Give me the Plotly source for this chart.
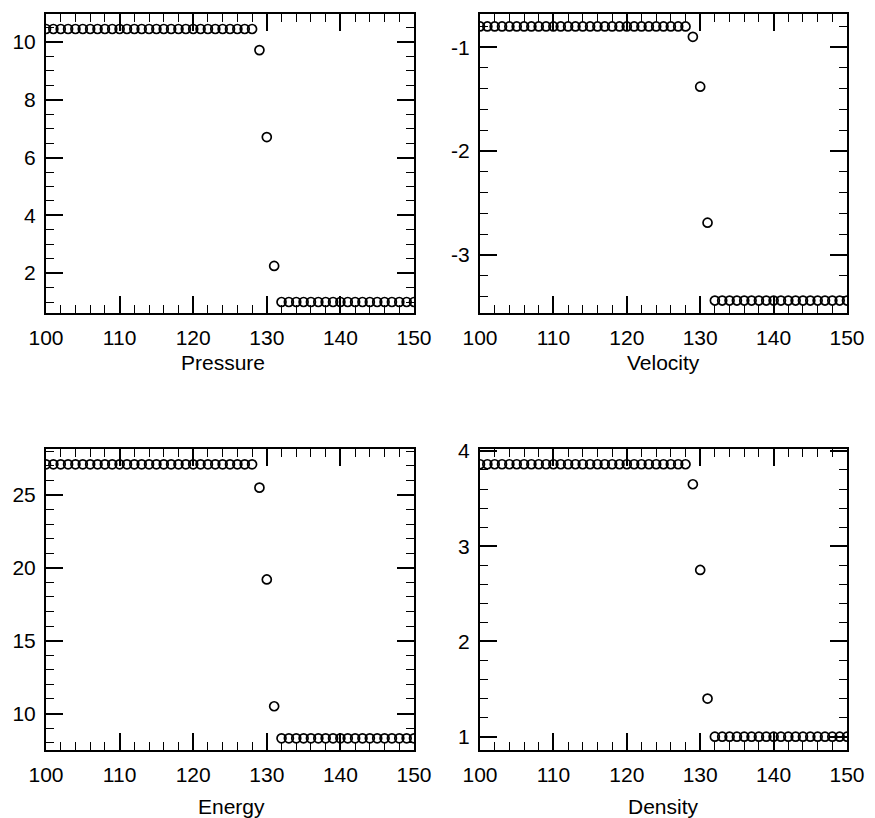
import plotly.graph_objects as go

# ---- data ----
x_vals = list(range(100, 151))

pressure = [10.45, 10.45, 10.45, 10.45, 10.45, 10.45, 10.45, 10.45, 10.45, 10.45,
            10.45, 10.45, 10.45, 10.45, 10.45, 10.45, 10.45, 10.45, 10.45, 10.45,
            10.45, 10.45, 10.45, 10.45, 10.45, 10.45, 10.45, 10.45, 10.45,
            9.72, 6.71, 2.25,
            1.0, 1.0, 1.0, 1.0, 1.0, 1.0, 1.0, 1.0, 1.0, 1.0,
            1.0, 1.0, 1.0, 1.0, 1.0, 1.0, 1.0, 1.0, 1.0]

velocity = [-0.80, -0.80, -0.80, -0.80, -0.80, -0.80, -0.80, -0.80, -0.80, -0.80,
            -0.80, -0.80, -0.80, -0.80, -0.80, -0.80, -0.80, -0.80, -0.80, -0.80,
            -0.80, -0.80, -0.80, -0.80, -0.80, -0.80, -0.80, -0.80, -0.80,
            -0.90, -1.38, -2.69,
            -3.44, -3.44, -3.44, -3.44, -3.44, -3.44, -3.44, -3.44, -3.44, -3.44,
            -3.44, -3.44, -3.44, -3.44, -3.44, -3.44, -3.44, -3.44, -3.44]

energy = [27.1, 27.1, 27.1, 27.1, 27.1, 27.1, 27.1, 27.1, 27.1, 27.1,
          27.1, 27.1, 27.1, 27.1, 27.1, 27.1, 27.1, 27.1, 27.1, 27.1,
          27.1, 27.1, 27.1, 27.1, 27.1, 27.1, 27.1, 27.1, 27.1,
          25.5, 19.2, 10.5,
          8.3, 8.3, 8.3, 8.3, 8.3, 8.3, 8.3, 8.3, 8.3, 8.3,
          8.3, 8.3, 8.3, 8.3, 8.3, 8.3, 8.3, 8.3, 8.3]

density = [3.86, 3.86, 3.86, 3.86, 3.86, 3.86, 3.86, 3.86, 3.86, 3.86,
           3.86, 3.86, 3.86, 3.86, 3.86, 3.86, 3.86, 3.86, 3.86, 3.86,
           3.86, 3.86, 3.86, 3.86, 3.86, 3.86, 3.86, 3.86, 3.86,
           3.65, 2.75, 1.40,
           1.0, 1.0, 1.0, 1.0, 1.0, 1.0, 1.0, 1.0, 1.0, 1.0,
           1.0, 1.0, 1.0, 1.0, 1.0, 1.0, 1.0, 1.0, 1.0]

titles = ["Pressure", "Velocity", "Energy", "Density"]
x_ticks = [100, 110, 120, 130, 140, 150]
pressure_ticks = [2, 4, 6, 8, 10]
velocity_ticks = [-3, -2, -1]
velocity_ticktext = ["-3", "-2", "-1"]
energy_ticks = [10, 15, 20, 25]
density_ticks = [1, 2, 3, 4]

W, H = 875, 818
FONT = "Liberation Sans, Arial, Helvetica, sans-serif"

fig = go.Figure()

series = [pressure, velocity, energy, density]
for i, ys in enumerate(series):
    n = "" if i == 0 else str(i + 1)
    fig.add_trace(go.Scatter(
        x=x_vals, y=ys, mode="markers",
        marker=dict(symbol="circle-open", size=9, color="black",
                    line=dict(width=1.7, color="black")),
        xaxis="x" + n, yaxis="y" + n, showlegend=False, hoverinfo="x+y"))

def px_x(a, b):
    return [a / W, b / W]

def px_y(top, bottom):
    return [1 - bottom / H, 1 - top / H]

xdom = [px_x(46, 414), px_x(480, 847)]
ydom = [px_y(14, 313), px_y(449, 750)]

common_axis = dict(showline=True, linecolor="black", linewidth=2, mirror="ticks",
                   ticks="inside", ticklen=17, tickwidth=1.6, tickcolor="black",
                   showgrid=False, zeroline=False, automargin=False,
                   tickfont=dict(family=FONT, size=21, color="black"))

yranges = [[0.62, 10.97], [-3.56, -0.68], [7.5, 28.15], [0.86, 4.02]]
yticks = [pressure_ticks, velocity_ticks, energy_ticks, density_ticks]
ytexts = [[str(v) for v in pressure_ticks], velocity_ticktext,
          [str(v) for v in energy_ticks], [str(v) for v in density_ticks]]
yminor = [0.5, 0.2, 1, 0.2]

layout = dict(width=W, height=H, margin=dict(l=0, r=0, t=0, b=0, autoexpand=False),
              paper_bgcolor="white", plot_bgcolor="white",
              font=dict(family=FONT, color="black"))

for i in range(4):
    n = "" if i == 0 else str(i + 1)
    col = i % 2
    row = i // 2
    xa = dict(common_axis)
    xa.update(domain=xdom[col], range=[100, 150], tickvals=x_ticks,
              ticktext=[str(v) for v in x_ticks], anchor="y" + n,
              ticklabelstandoff=5,
              minor=dict(dtick=2, tick0=100, ticks="inside", ticklen=8,
                         tickwidth=1.4, tickcolor="black"))
    ya = dict(common_axis)
    ya.update(domain=ydom[row], range=yranges[i], tickvals=yticks[i],
              ticktext=ytexts[i], anchor="x" + n, ticklabelstandoff=4,
              minor=dict(dtick=yminor[i], tick0=0, ticks="inside", ticklen=8,
                         tickwidth=1.4, tickcolor="black"))
    layout["xaxis" + n] = xa
    layout["yaxis" + n] = ya

fig.update_layout(**layout)

title_pos = [(223, 362), (663, 362), (232, 806), (663, 806)]
for t, (cx, cy) in zip(titles, title_pos):
    fig.add_annotation(text=t, x=cx / W, y=1 - cy / H, xref="paper", yref="paper",
                       showarrow=False, xanchor="center", yanchor="middle",
                       font=dict(family=FONT, size=21, color="black"))

fig.write_html("out.html", config={"displayModeBar": False},
               post_script="document.body.style.margin='0';document.body.style.padding='0';")
